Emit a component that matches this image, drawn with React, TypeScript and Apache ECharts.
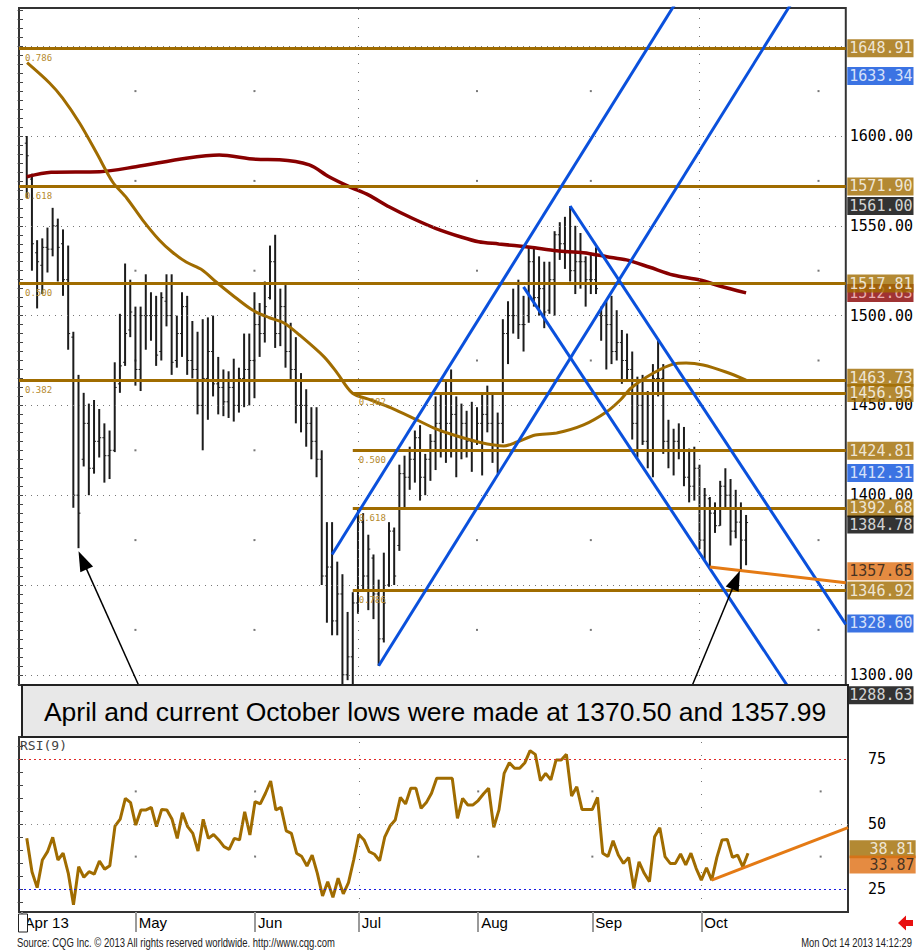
import React, { useEffect, useRef } from 'react';
import * as echarts from 'echarts';

// ---------- DATA ----------
const highs = [1600,1579,1542,1543,1549,1560,1554,1548,1539,1491,1467,1457,1451,1453,1448,1440,1436,1474,1501,1529,
1520,1505,1505,1523,1513,1511,1513,1523,1523,1500,1513,1511,1497,1491,1498,1499,1500,1477,1470,1469,
1476,1471,1490,1490,1513,1507,1519,1539,1545,1515,1517,1496,1488,1468,1459,1449,1449,1425,1385,1385,
1363,1356,1335,1346,1392,1390,1378,1367,1353,1368,1385,1382,1417,1422,1427,1436,1439,1423,1434,1455,
1456,1464,1470,1455,1451,1447,1452,1449,1456,1461,1456,1446,1498,1508,1515,1520,1511,1538,1538,1533,
1530,1530,1547,1552,1555,1561,1550,1546,1533,1535,1538,1505,1508,1511,1503,1492,1490,1480,1466,1467,
1458,1473,1486,1473,1442,1437,1440,1438,1426,1427,1417,1404,1399,1396,1408,1415,1409,1403,1396,1389];
const lows = [1565.5,1525,1504,1512,1524,1533,1519,1511,1481,1393,1370.5,1416,1400,1412,1421,1407,1409,1424,1457,1472,
1488,1461,1458,1481,1486,1472,1475,1494,1467,1471,1477,1467,1465,1445,1425,1442,1455,1445,1444,1443,
1441,1446,1449,1450,1454,1477,1485,1509,1482,1483,1471,1464,1440,1435,1427,1420,1410,1350,1329,1322,
1322,1292,1297,1288.63,1334,1347,1336,1331,1305,1318,1349,1350,1369,1393,1403,1407,1397,1400,1408,1414,
1421,1418,1421,1410,1420,1421,1413,1428,1411,1435,1418,1412,1429,1473,1490,1487,1480,1496,1505,1500,
1493,1501,1500,1531,1526,1519,1512,1515,1505,1512,1512,1486,1470,1473,1475,1462,1464,1431,1421,1428,
1415,1410,1455,1423,1415,1411,1420,1405,1396,1397,1370,1364,1360,1379,1383,1392,1372,1376,1357.99,1361];
const opens = [1596,1576,1535,1528,1538,1537,1550,1540,1520,1488,1400,1420,1440,1415,1430,1432,1422,1425,1462,1474,
1492,1500,1470,1500,1500,1500,1480,1508,1500,1475,1490,1505,1475,1470,1450,1465,1480,1462,1460,1452,
1460,1450,1465,1470,1475,1495,1490,1510,1530,1490,1505,1480,1470,1450,1450,1440,1430,1420,1355,1360,
1330,1345,1300,1310,1340,1385,1355,1365,1345,1320,1350,1380,1372,1412,1410,1420,1432,1410,1420,1430,
1440,1435,1440,1445,1425,1440,1430,1430,1440,1445,1440,1425,1440,1490,1500,1500,1495,1500,1530,1510,
1515,1503,1520,1545,1540,1535,1525,1530,1530,1520,1520,1500,1500,1495,1480,1485,1475,1470,1440,1450,
1430,1425,1465,1465,1430,1425,1430,1425,1410,1405,1415,1375,1398,1390,1383,1405,1400,1380,1385,1375];
const closes = [1589,1540,1530,1538,1537,1550,1538,1520,1490,1400,1390,1440,1415,1430,1432,1422,1425,1460,1472,1490,
1502,1470,1500,1500,1500,1478,1510,1500,1474,1490,1505,1475,1470,1450,1465,1480,1462,1460,1452,1460,
1450,1465,1470,1475,1495,1490,1505,1530,1490,1505,1480,1470,1450,1450,1440,1430,1420,1355,1360,1330,
1345,1300,1310,1340,1385,1355,1370,1345,1320,1340,1380,1355,1412,1410,1420,1432,1410,1420,1430,1440,
1435,1440,1445,1425,1440,1430,1425,1440,1445,1440,1425,1440,1490,1500,1500,1495,1495,1530,1510,1515,
1502,1520,1545,1540,1535,1525,1530,1530,1520,1520,1515,1500,1495,1480,1485,1475,1470,1440,1450,1430,
1425,1465,1465,1430,1425,1430,1425,1410,1405,1415,1375,1400,1390,1383,1405,1400,1380,1385,1375,1384.78];
const rsi = [44.5,31.7,25.6,36.2,39.4,44.9,36.2,38.8,31.1,19,33.6,29.6,31.7,30.8,35.8,32.7,34,49.2,51.9,59.8,
58.2,49.6,55.4,55.4,56.4,49,55.6,55.4,51.8,44.5,54.3,49,46.4,39.6,51.8,44.5,46,43.9,41.3,40.3,
44.5,43.9,54.7,45.8,58.6,57.7,61.8,66.5,55.4,56.4,47.4,46.4,38.8,37.5,33.9,38.1,31.1,22.4,27.9,21.9,
29.2,23.2,27.5,36.2,46,43.9,39.4,38.4,35.9,45.1,49.2,51.5,60.2,57.7,63.7,63.7,56,58.2,61.8,67.5,
67.5,67.5,67.5,52.2,59.8,57.3,57.3,59,61.5,63.7,48.7,55.4,69.4,73.5,71.4,71.4,73.5,78.1,76.7,66.6,
69.4,66.9,74.5,74.5,76.7,60.7,64.3,55.6,55.6,55.6,60.2,38.8,37.5,43.6,38.1,34.9,37.2,25.3,35.5,31.1,
27.9,45.1,48.6,37.5,34.9,34.9,38.5,34.3,38.8,33,28.5,33.2,28.5,37.2,43.9,44.1,37.2,38.1,33.6,38.81];
// moving averages read as [bar, price]
const maFast = [[1.06,1640.8],[5.4,1629.5],[7.9,1621.2],[11.2,1607.2],[14.5,1590.5],[17.6,1574.4],[20.3,1565.5],[23.4,1553.2],
[26.6,1542.1],[29.1,1535.4],[31.8,1529.8],[34.9,1525.4],[37.6,1518.7],[40.7,1511.5],[44.6,1503.1],[47.9,1498.8],[50.7,1495.9],
[53.7,1489.2],[58.5,1476.9],[61,1468],[63.9,1456.9],[67.5,1453],[71.4,1448.6],[76.4,1441.9],[79.7,1437.4],[83.5,1433.5],
[88.3,1429.6],[93.2,1427.4],[95.7,1429.6],[99.3,1433.5],[103.4,1434.6],[108.6,1439.1],[113,1446.3],[115.7,1453],[117.8,1459.7],
[122.1,1468],[125.9,1473],[128.4,1473.6],[131.7,1472.5],[136.1,1468.6],[140,1464.1]];
const maSlow = [[1,1577.3],[5.7,1579.8],[15.1,1580.1],[22.1,1582.9],[31.8,1587.6],[38.2,1589.4],[45.3,1587.0],[49.8,1586.8],
[55.6,1583.9],[59.4,1577.3],[63.3,1571.8],[67.1,1567.1],[71,1560.6],[75.5,1554.2],[80,1548.6],[85.1,1543.6],[88.3,1541.1],
[92.2,1539.9],[98.3,1538],[103.4,1536.1],[108.6,1535],[113.1,1532.8],[116.9,1531],[121.4,1526.9],[125.9,1522.6],[131.1,1519.8],
[134.9,1516.5],[140,1512.63]];
const fibA = [1648.91, 1571.90, 1517.81, 1463.73];
const fibARatios = ['0.786', '0.618', '0.500', '0.382'];
const fibAStart = -0.5;
const fibB = [1456.95, 1424.81, 1392.68, 1346.92];
const fibBRatios = ['0.382', '0.500', '0.618', '0.786'];
const fibBStart = 64;
const channels = [
  [[60, 1367], [135, 1713.9]],
  [[69, 1305], [152, 1688.9]],
  [[97, 1516], [152, 1276.4]],
  [[106, 1561], [159.27, 1328.05]],
];
const priceTrend = [[133, 1360], [159.27, 1351.2]];
const rsiTrend = [[133, 28.5], [159.27, 48.65]];
const priceTagValues = [1512.63, 1517.81, 1648.91, 1633.34, 1571.90, 1561.00, 1463.73, 1456.95, 1424.81, 1412.31, 1392.68, 1384.78, 1357.65, 1346.92, 1328.60, 1288.63];
const priceTagKinds = ['red', 'gold', 'gold', 'blue', 'gold', 'black', 'gold', 'gold', 'gold', 'blue', 'gold', 'black', 'orange', 'gold', 'blue', 'black'];
const rsiTagValues = [38.81, 33.87];
const rsiTagKinds = ['gold', 'orange'];
const priceGridValues = [1300, 1350, 1400, 1450, 1500, 1550, 1600, 1650];
const priceLabelValues = [1300, 1400, 1450, 1500, 1550, 1600];
const priceMidLevels = [1325, 1375, 1425, 1475, 1525, 1575, 1625];
const rsiLabelValues = [25, 50, 75];
const rsiMidLevels = [37.5, 62.5];
const monthTicks = [0, 22, 45, 65, 88, 110, 131];
const monthNames = ['Apr 13', 'May', 'Jun', 'Jul', 'Aug', 'Sep', 'Oct'];
const quarterTicks = [65, 131];
const minorMonthTicks = [22, 45, 88, 110, 154];
const aprilLow = [11, 1370.5];
const octoberLow = [139, 1357.99];

// ---------- STYLE ----------
const X_MIN = -0.5, X_MAX = 159.27;
const P_MIN = 1294.32, P_MAX = 1671.27;
const R_MIN = 16.26, R_MAX = 83.36;
const GOLD = '#A06C00';
const BLUE = '#0A50DC';
const DARKRED = '#880000';
const ORANGE = '#E47A14';
const MONO = "'DejaVu Sans Mono', monospace";
const SANS = "'Liberation Sans', Arial, sans-serif";
const tagStyles: any = {
  gold: { bg: GOLD, fg: '#ffffff' },
  blue: { bg: BLUE, fg: '#ffffff' },
  black: { bg: '#000000', fg: '#ffffff' },
  red: { bg: DARKRED, fg: '#ffd0d0' },
  orange: { bg: '#DE6E12', fg: '#1a1a1a' },
};
const priceTagOffsets: any = { 1463.73: -3, 1384.78: 2 };
const rsiTagOffsets: any = { 38.81: -4, 33.87: -1.5 };

function range(a: number, b: number, s: number) {
  const r: number[] = [];
  for (let v = a; v <= b + 1e-9; v += s) r.push(v);
  return r;
}

export default function App() {
  const ref = useRef<HTMLDivElement>(null);
  useEffect(() => {
    document.body.style.margin = '0';
    const chart = echarts.init(ref.current!, undefined, { renderer: 'svg' });
    const bars = highs.map((h, i) => [i + 1, opens[i], h, lows[i], closes[i]]);
    const priceDots: number[][] = [];
    minorMonthTicks.forEach((m) => priceMidLevels.forEach((l) => priceDots.push([m, l])));
    const rsiDots: number[][] = [];
    minorMonthTicks.forEach((m) => rsiMidLevels.forEach((l) => rsiDots.push([m, l])));

    const tagLabel = (kind: string, text: string, off: number, padLeft: number) => ({
      show: true,
      position: 'right',
      distance: 1,
      formatter: text,
      backgroundColor: tagStyles[kind].bg,
      color: tagStyles[kind].fg,
      fontFamily: MONO,
      fontSize: 15,
      lineHeight: 15,
      padding: [2, 1, 1, padLeft],
      offset: [0, off],
    });

    const option: any = {
      animation: false,
      backgroundColor: '#ffffff',
      grid: [
        { left: 19, top: 8, width: 829, height: 677, show: true, borderColor: '#333', borderWidth: 2, backgroundColor: '#fff' },
        { left: 19, top: 737, width: 829, height: 175, show: true, borderColor: '#333', borderWidth: 2, backgroundColor: '#fff' },
      ],
      xAxis: [
        { gridIndex: 0, type: 'value', min: X_MIN, max: X_MAX, show: false },
        {
          gridIndex: 1, type: 'value', min: X_MIN, max: X_MAX, position: 'bottom',
          axisLine: { show: false }, splitLine: { show: false },
          axisTick: { show: true, customValues: monthTicks, length: 20, lineStyle: { color: '#9a9a9a', width: 2 } },
          axisLabel: {
            customValues: monthTicks, formatter: (v: number) => monthNames[monthTicks.indexOf(v)] || '',
            align: 'left', color: '#000', fontFamily: SANS, fontSize: 15, margin: 3, padding: [0, 0, 0, 3],
          },
        },
      ],
      yAxis: [
        {
          gridIndex: 0, type: 'value', position: 'right', min: P_MIN, max: P_MAX,
          axisLine: { show: false }, splitLine: { show: false },
          axisTick: { show: true, inside: true, length: 4, customValues: range(1295, 1670, 5), lineStyle: { color: '#444' } },
          axisLabel: { customValues: priceLabelValues, formatter: (v: number) => v.toFixed(2), color: '#000', fontFamily: MONO, fontSize: 15, margin: 4 },
        },
        {
          gridIndex: 0, type: 'value', position: 'left', min: P_MIN, max: P_MAX,
          axisLine: { show: false }, splitLine: { show: false }, axisLabel: { show: false },
          axisTick: { show: true, inside: true, length: 4, customValues: range(1295, 1670, 5), lineStyle: { color: '#444' } },
        },
        {
          gridIndex: 1, type: 'value', position: 'right', min: R_MIN, max: R_MAX,
          axisLine: { show: false }, splitLine: { show: false },
          axisTick: { show: true, inside: true, length: 4, customValues: range(20, 80, 5), lineStyle: { color: '#444' } },
          axisLabel: { customValues: rsiLabelValues, color: '#000', fontFamily: MONO, fontSize: 15, margin: 20 },
        },
        {
          gridIndex: 1, type: 'value', position: 'left', min: R_MIN, max: R_MAX,
          axisLine: { show: false }, splitLine: { show: false }, axisLabel: { show: false },
          axisTick: { show: true, inside: true, length: 4, customValues: range(20, 80, 5), lineStyle: { color: '#444' } },
        },
      ],
      series: [
        // grid decorations, price panel
        {
          type: 'scatter', xAxisIndex: 0, yAxisIndex: 0, data: priceDots, symbol: 'rect', symbolSize: 2,
          itemStyle: { color: '#555' }, silent: true, z: 1,
          markLine: {
            symbol: 'none', silent: true, label: { show: false },
            lineStyle: { color: '#777', type: [1, 5], width: 1 },
            data: [
              ...priceGridValues.map((v) => ({ yAxis: v })),
              ...quarterTicks.map((v) => ({ xAxis: v, lineStyle: { color: '#777', type: [1, 8], width: 1 } })),
            ],
          },
        },
        // OHLC bars
        {
          type: 'custom', xAxisIndex: 0, yAxisIndex: 0, data: bars, z: 3, clip: true, silent: true,
          encode: { x: 0, y: [1, 2, 3, 4] },
          renderItem: (params: any, api: any) => {
            const x = api.value(0);
            const pO = api.coord([x, api.value(1)]);
            const pH = api.coord([x, api.value(2)]);
            const pL = api.coord([x, api.value(3)]);
            const pC = api.coord([x, api.value(4)]);
            return {
              type: 'group',
              children: [
                { type: 'line', shape: { x1: pH[0], y1: pH[1], x2: pL[0], y2: pL[1] }, style: { stroke: '#1c1c1c', lineWidth: 2 } },
                { type: 'line', shape: { x1: pO[0] - 2, y1: pO[1], x2: pO[0], y2: pO[1] }, style: { stroke: '#1c1c1c', lineWidth: 1 } },
                { type: 'line', shape: { x1: pC[0], y1: pC[1], x2: pC[0] + 2, y2: pC[1] }, style: { stroke: '#1c1c1c', lineWidth: 1 } },
              ],
            };
          },
        },
        // slow MA
        {
          type: 'line', xAxisIndex: 0, yAxisIndex: 0, data: maSlow, smooth: 0.3, symbol: 'none', z: 4, silent: true,
          lineStyle: { color: DARKRED, width: 3.5 },
        },
        // fast MA + fibonacci levels
        {
          type: 'line', xAxisIndex: 0, yAxisIndex: 0, data: maFast, smooth: 0.3, symbol: 'none', z: 4, silent: true,
          lineStyle: { color: GOLD, width: 3 },
          markLine: {
            symbol: 'none', silent: true,
            lineStyle: { color: GOLD, width: 3, type: 'solid' },
            label: { show: true, position: 'insideStartBottom', color: '#B58A2E', fontFamily: MONO, fontSize: 9, distance: 1, padding: [4, 0, 0, 5] },
            data: [
              ...fibA.map((v, i) => [{ coord: [fibAStart, v], label: { formatter: fibARatios[i] } }, { coord: [X_MAX, v] }]),
              ...fibB.map((v, i) => [{ coord: [fibBStart, v], label: { formatter: fibBRatios[i] } }, { coord: [X_MAX, v] }]),
            ],
          },
        },
        // blue channels
        ...channels.map((c) => ({
          type: 'line', xAxisIndex: 0, yAxisIndex: 0, data: c, symbol: 'none', z: 6, silent: true, clip: true,
          lineStyle: { color: BLUE, width: 3 },
        })),
        // orange trendline price
        {
          type: 'line', xAxisIndex: 0, yAxisIndex: 0, data: priceTrend, symbol: 'none', z: 7, silent: true,
          lineStyle: { color: ORANGE, width: 3 },
        },
        // price tags
        {
          type: 'scatter', xAxisIndex: 0, yAxisIndex: 0, symbolSize: 1, clip: false, silent: true, z: 20,
          itemStyle: { color: 'rgba(0,0,0,0)' },
          data: priceTagValues.map((v, i) => ({
            value: [X_MAX, v],
            label: tagLabel(priceTagKinds[i], v.toFixed(2), priceTagOffsets[v] || 0, 2),
          })),
        },
        // RSI decorations
        {
          type: 'scatter', xAxisIndex: 1, yAxisIndex: 2, data: rsiDots, symbol: 'rect', symbolSize: 2,
          itemStyle: { color: '#555' }, silent: true, z: 1,
          markLine: {
            symbol: 'none', silent: true, label: { show: false },
            data: [
              { yAxis: 75, lineStyle: { color: '#E02828', type: [2, 3], width: 1 } },
              { yAxis: 50, lineStyle: { color: '#888', type: [1, 5], width: 1 } },
              { yAxis: 25, lineStyle: { color: '#1a1ae0', type: [2, 3], width: 1 } },
              ...quarterTicks.map((v) => ({ xAxis: v, lineStyle: { color: '#777', type: [1, 12], width: 1 } })),
            ],
          },
        },
        {
          type: 'line', xAxisIndex: 1, yAxisIndex: 2, data: rsi.map((v, i) => [i + 1, v]), symbol: 'none', z: 4, silent: true,
          lineStyle: { color: GOLD, width: 3 },
        },
        {
          type: 'line', xAxisIndex: 1, yAxisIndex: 2, data: rsiTrend, symbol: 'none', z: 5, silent: true,
          lineStyle: { color: ORANGE, width: 3 },
        },
        {
          type: 'scatter', xAxisIndex: 1, yAxisIndex: 2, symbolSize: 1, clip: false, silent: true, z: 20,
          itemStyle: { color: 'rgba(0,0,0,0)' },
          data: rsiTagValues.map((v, i) => ({
            value: [X_MAX, v],
            label: tagLabel(rsiTagKinds[i], v.toFixed(2), rsiTagOffsets[v] || 0, 20),
          })),
        },
      ],
    };
    chart.setOption(option);

    const tipA = chart.convertToPixel({ xAxisIndex: 0, yAxisIndex: 0 }, aprilLow) as number[];
    const tipB = chart.convertToPixel({ xAxisIndex: 0, yAxisIndex: 0 }, octoberLow) as number[];
    const arrow = (tail: number[], tip: number[]) => {
      const dx = tip[0] - tail[0], dy = tip[1] - tail[1];
      const L = Math.hypot(dx, dy), ux = dx / L, uy = dy / L;
      const len = 20, half = 7;
      const bx = tip[0] - ux * len, by = tip[1] - uy * len;
      return [
        { type: 'line', z: 90, silent: true, shape: { x1: tail[0], y1: tail[1], x2: bx + ux * 2, y2: by + uy * 2 }, style: { stroke: '#000', lineWidth: 1.5 } },
        { type: 'polygon', z: 90, silent: true, shape: { points: [[tip[0], tip[1]], [bx - uy * half, by + ux * half], [bx + uy * half, by - ux * half]] }, style: { fill: '#000' } },
      ];
    };
    chart.setOption({
      graphic: [
        ...arrow([139, 686], [tipA[0], tipA[1] + 3]),
        ...arrow([692, 686], [tipB[0] - 1, tipB[1]]),
        { type: 'text', z: 50, silent: true, x: 20, y: 745, style: { text: 'RSI(9)', fontFamily: MONO, fontSize: 13, fill: '#444', verticalAlign: 'middle' } },
        { type: 'rect', z: 100, silent: true, shape: { x: 22, y: 685, width: 826, height: 52 }, style: { fill: '#E8E8E8', stroke: '#222', lineWidth: 2 } },
        { type: 'text', z: 101, silent: true, x: 435, y: 712, style: { text: 'April and current October lows were made at 1370.50 and 1357.99', fontFamily: SANS, fontSize: 26.5, fill: '#000', align: 'center', verticalAlign: 'middle' } },
        { type: 'rect', z: 100, silent: true, shape: { x: 18.5, y: 914, width: 9, height: 18 }, style: { fill: '#fff', stroke: '#222', lineWidth: 1 } },
        { type: 'polygon', z: 100, silent: true, shape: { points: [[898, 923], [906, 915.5], [906, 920], [913, 920], [913, 926], [906, 926], [906, 930.5]] }, style: { fill: '#E81010' } },
        { type: 'text', z: 100, silent: true, x: 17, y: 943, scaleX: 0.79, style: { text: 'Source: CQG Inc. \u00A9 2013 All rights reserved worldwide. http://www.cqg.com', fontFamily: SANS, fontSize: 12, fill: '#222', verticalAlign: 'middle' } },
        { type: 'text', z: 100, silent: true, x: 912, y: 943, scaleX: 0.78, style: { text: 'Mon Oct 14 2013 14:12:29', fontFamily: SANS, fontSize: 12, fill: '#222', align: 'right', verticalAlign: 'middle' } },
      ],
    });
    return () => chart.dispose();
  }, []);
  return <div ref={ref} style={{ width: 916, height: 950 }} />;
}
